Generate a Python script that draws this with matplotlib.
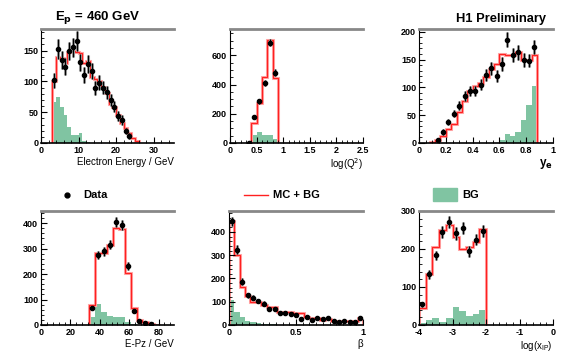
import numpy as np
import matplotlib.pyplot as plt
from matplotlib.lines import Line2D
from matplotlib.patches import Rectangle
from matplotlib.ticker import MultipleLocator, FormatStrFormatter

plt.rcParams['font.family'] = ['Liberation Sans', 'DejaVu Sans']

# ---- data ----
# electron energy
ee_edges = np.arange(3, 27, 1)
ee_mc = [100, 139, 138, 130, 148, 150, 148, 146, 130, 133, 107, 104, 100, 91, 81, 63, 59, 46, 32, 24, 17, 8, 3]
ee_bg = [67, 74, 58, 45, 26, 13, 13, 17, 4, 1, 0, 0, 0, 0, 0, 0, 0, 0, 0, 0, 0, 0, 0]
ee_x = np.arange(3.5, 24, 1)
ee_data = [102, 152, 135, 124, 149, 155, 166, 131, 110, 128, 117, 89, 98, 90, 82, 70, 59, 44, 38, 19, 12]
ee_err = [12, 16, 15, 14, 15, 16, 16, 14, 13, 14, 13, 11, 12, 11, 11, 10, 9, 8, 8, 5, 5]

# log(Q2)
q2_edges = np.arange(0.4, 0.95, 0.1)
q2_mc = [135, 272, 450, 705, 447]
q2_bg = [57, 73, 55, 55, 30]
q2_x = [0.35, 0.45, 0.55, 0.65, 0.75, 0.85]
q2_data = [3, 180, 287, 411, 687, 481]
q2_err = [3, 14, 17, 20, 26, 22]

# y_e
ye_edges = np.arange(0.08, 0.9, 0.04)
ye_mc = [1, 6, 12, 26, 35, 55, 76, 93, 103, 108, 118, 133, 142, 160, 158, 158, 164, 150, 150, 158]
ye_bg = [0, 0, 0, 0, 0, 0, 0, 0, 0, 0, 0, 0, 0, 5, 16, 13, 20, 42, 68, 102]
ye_x = np.arange(0.14, 0.87, 0.04)
ye_data = [5, 20, 38, 53, 67, 84, 94, 93, 105, 122, 134, 120, 142, 186, 158, 163, 149, 148, 173]
ye_err = [2, 5, 6, 7, 8, 9, 9, 9, 10, 11, 11, 11, 12, 13, 12, 13, 12, 12, 13]

# E-Pz
epz_edges = np.arange(33, 82, 4)
epz_mc = [80, 283, 281, 313, 382, 378, 203, 68, 21, 10, 5, 1]
epz_bg = [31, 84, 50, 37, 31, 30, 10, 5, 0, 0, 0, 0]
epz_x = np.arange(35, 76, 4)
epz_data = [68, 275, 290, 315, 405, 393, 232, 55, 16, 7, 3]
epz_err = [8, 17, 17, 18, 20, 20, 15, 7, 4, 3, 2]

# beta
b_edges = np.linspace(0, 1, 26)
b_mc = [445, 300, 163, 124, 99, 99, 87, 77, 77, 55, 55, 54, 51, 52, 36, 30, 29, 22, 25, 19, 16, 19, 17, 17, 29]
b_bg = [106, 55, 33, 19, 12, 7, 4, 3, 3, 2, 2, 2, 2, 1, 1, 1, 1, 1, 1, 1, 1, 1, 1, 1, 1]
b_x = np.linspace(0.02, 0.98, 25)
b_data = [445, 324, 186, 128, 118, 103, 92, 70, 70, 52, 52, 49, 41, 26, 36, 22, 32, 25, 31, 16, 15, 17, 12, 13, 32]
b_err = [21, 18, 14, 11, 11, 10, 10, 8, 8, 7, 7, 7, 6, 5, 6, 5, 6, 5, 6, 4, 4, 4, 3, 4, 6]

# log(x_IP)
xp_edges = np.linspace(-4, -2, 11)
xp_mc = [45, 134, 205, 249, 264, 232, 201, 204, 218, 253]
xp_bg = [5, 13, 19, 9, 19, 47, 36, 25, 29, 40]
xp_x = np.linspace(-3.9, -2.1, 10)
xp_data = [54, 133, 183, 244, 272, 241, 256, 194, 225, 247]
xp_err = [7, 12, 13, 16, 16, 16, 16, 14, 15, 16]

green = '#80c4a2'
red = '#ff2020'

fig = plt.figure(figsize=(5.67, 3.64), dpi=100)

def panel(rect, edges, mc, bg, x, data, err, xlim, ylim, xmaj, xmin, ymaj, ymin, xlabel,
          xfmt='%g', lbl_bold=False):
    ax = fig.add_axes(rect)
    ax.stairs(bg, edges, fill=True, color=green, linewidth=0)
    ax.stairs(mc, edges, color='#ffaaaa', linewidth=2.2)
    ax.stairs(mc, edges, color=red, linewidth=0.9)
    ax.errorbar(x, data, yerr=err, fmt='none', ecolor='#999999', elinewidth=2.2)
    ax.errorbar(x, data, yerr=err, fmt='o', color='black', ms=3, elinewidth=0.8)
    ax.set_xlim(*xlim)
    ax.set_ylim(*ylim)
    ax.xaxis.set_major_locator(MultipleLocator(xmaj))
    ax.xaxis.set_minor_locator(MultipleLocator(xmin))
    ax.yaxis.set_major_locator(MultipleLocator(ymaj))
    ax.yaxis.set_minor_locator(MultipleLocator(ymin))
    ax.xaxis.set_major_formatter(FormatStrFormatter(xfmt))
    ax.tick_params(which='both', direction='in', top=False, right=False,
                   labelsize=6.5, pad=2)
    ax.tick_params(which='major', length=4, width=0.8)
    ax.tick_params(which='minor', length=2, width=0.6)
    for lab in ax.get_xticklabels() + ax.get_yticklabels():
        lab.set_fontweight('bold')
    ax.spines['right'].set_visible(False)
    ax.spines['top'].set_color('#888888')
    ax.spines['top'].set_linewidth(2)
    ax.spines['left'].set_linewidth(0.8)
    ax.spines['bottom'].set_linewidth(1.2)
    if lbl_bold:
        ax.text(1.0, -0.12, xlabel, transform=ax.transAxes, ha='right', va='top',
                fontsize=8.5, fontweight='bold')
    else:
        ax.text(1.0, -0.12, xlabel, transform=ax.transAxes, ha='right', va='top', fontsize=7)
    return ax

h = 114 / 364
top_b = 1 - 143 / 364
bot_b = 1 - 325 / 364

panel([41 / 567, top_b, 133 / 567, h], ee_edges, ee_mc, ee_bg, ee_x, ee_data, ee_err,
      (0, 35.4), (0, 185), 10, 2, 50, 10, 'Electron Energy / GeV')
panel([230 / 567, top_b, 133 / 567, h], q2_edges, q2_mc, q2_bg, q2_x, q2_data, q2_err,
      (0, 2.5), (0, 780), 0.5, 0.1, 200, 50, 'log(Q$^2$)')
panel([419 / 567, top_b, 134 / 567, h], ye_edges, ye_mc, ye_bg, ye_x, ye_data, ye_err,
      (0, 1), (0, 205), 0.2, 0.05, 50, 10, 'y$_\\mathbf{e}$', lbl_bold=True)
panel([41 / 567, bot_b, 133 / 567, h], epz_edges, epz_mc, epz_bg, epz_x, epz_data, epz_err,
      (0, 90.5), (0, 448), 20, 4, 100, 20, 'E-Pz / GeV')
panel([229 / 567, bot_b, 134 / 567, h], b_edges, b_mc, b_bg, b_x, b_data, b_err,
      (0, 1), (0, 490), 0.5, 0.05, 100, 20, '\u03b2')
panel([419 / 567, bot_b, 134 / 567, h], xp_edges, xp_mc, xp_bg, xp_x, xp_data, xp_err,
      (-4, 0), (0, 300), 1, 0.2, 100, 20, 'log(x$_\\mathregular{IP}$)')

# titles
fig.text(55 / 567, 1 - 20 / 364, 'E$_\\mathbf{p}$ = 460 GeV', fontsize=9.5, fontweight='bold',
         ha='left', va='baseline')
fig.text(546 / 567, 1 - 22 / 364, 'H1 Preliminary', fontsize=9.3, fontweight='bold',
         ha='right', va='baseline')

# legend row
ly = 1 - 195 / 364
fig.add_artist(Line2D([67 / 567], [ly], marker='o', color='black', ms=3.5, transform=fig.transFigure))
fig.text(83 / 567, ly, 'Data', fontsize=8, fontweight='bold', va='center')
fig.add_artist(Line2D([244 / 567, 268 / 567], [ly, ly], color=red, lw=1, transform=fig.transFigure))
fig.text(273 / 567, ly, 'MC + BG', fontsize=8, fontweight='bold', va='center')
fig.add_artist(Rectangle((433 / 567, 1 - 201 / 364), 24 / 567, 13 / 364, color=green,
                         transform=fig.transFigure))
fig.text(462 / 567, ly, 'BG', fontsize=8, fontweight='bold', va='center')

fig.savefig('out.png', dpi=100)
